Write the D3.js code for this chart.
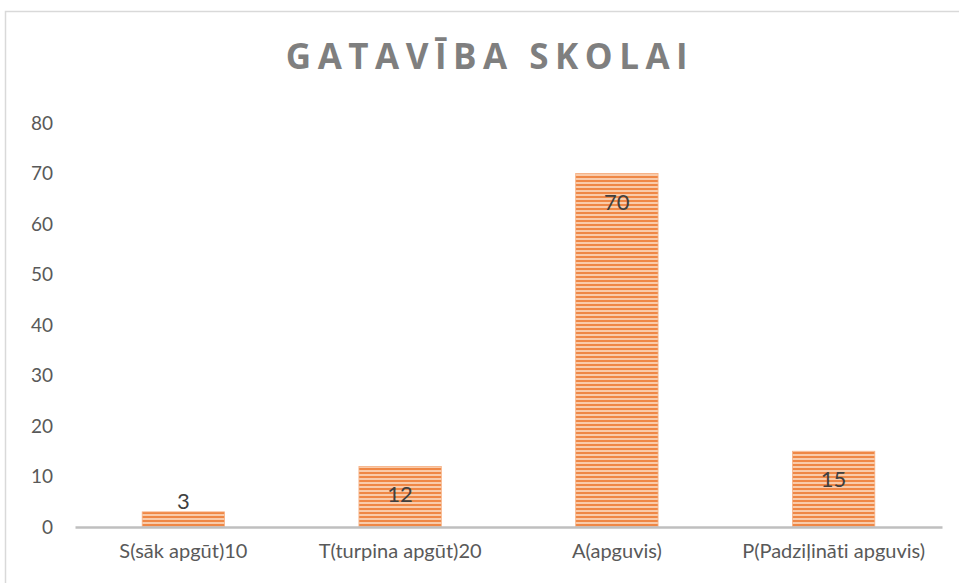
<!DOCTYPE html>
<html lang="lv">
<head>
<meta charset="UTF-8">
<title>Gatavība skolai</title>
<style>
    body { margin: 0; background: #fff; }
    svg text { font-family: Lato, "Open Sans", sans-serif; font-variant-ligatures: none; }
</style>
</head>
<body>
<div id="chart"></div>
<script src="https://d3js.org/d3.v7.min.js"></script>
<script>
    // data
    var categories = ["S(sāk apgūt)10", "T(turpina apgūt)20", "A(apguvis)", "P(Padziļināti apguvis)"];
    var values = [3, 12, 70, 15];
    var yTicks = [0, 10, 20, 30, 40, 50, 60, 70, 80];
    var title = "GATAVĪBA SKOLAI";

    var width = 959, height = 583;
    var plotLeft = 75, plotRight = 942, plotTop = 123, plotBottom = 527;

    var svg = d3.select("#chart")
        .append("svg")
        .attr("width", width)
        .attr("height", height);

    // stripe pattern for bars
    var pat = svg.append("defs").append("pattern")
        .attr("id", "stripes")
        .attr("patternUnits", "userSpaceOnUse")
        .attr("width", 8)
        .attr("height", 4);
    pat.append("rect").attr("width", 8).attr("height", 4).attr("fill", "#f9cbaa");
    pat.append("rect").attr("width", 8).attr("height", 2).attr("fill", "#ef8745");

    // chart area border (cut off at right and bottom)
    svg.append("path")
        .attr("d", "M5.5," + (height + 5) + "V11.5H" + (width + 5))
        .attr("fill", "none")
        .attr("stroke", "#d9d9d9")
        .attr("stroke-width", 1.5);

    var x = d3.scaleBand()
        .domain(categories)
        .range([plotLeft, plotRight])
        .paddingInner(0.62)
        .paddingOuter(0.31);

    var y = d3.scaleLinear()
        .domain([0, 80])
        .range([plotBottom, plotTop]);

    // title
    svg.append("text")
        .attr("x", 490)
        .attr("y", 69)
        .attr("text-anchor", "middle")
        .attr("fill", "#7f7f7f")
        .style("font-family", "'Open Sans', sans-serif")
        .style("font-size", "35px")
        .style("font-weight", "bold")
        .style("letter-spacing", "6.5px")
        .text(title);

    // y axis (labels only)
    var yAxis = d3.axisLeft(y).tickValues(yTicks).tickSize(0).tickPadding(0);
    var yG = svg.append("g")
        .attr("transform", "translate(53,0)")
        .call(yAxis);
    yG.select(".domain").remove();
    yG.selectAll("text")
        .attr("fill", "#595959")
        .style("font-size", "19px");

    // bars
    svg.selectAll(".bar")
        .data(values)
        .enter()
        .append("rect")
        .attr("class", "bar")
        .attr("x", function (d, i) { return x(categories[i]); })
        .attr("y", function (d) { return y(d); })
        .attr("width", x.bandwidth())
        .attr("height", function (d) { return y(0) - y(d); })
        .attr("fill", "url(#stripes)")
        .attr("stroke", "#f6b083")
        .attr("stroke-width", 0.8);

    // x axis
    var xAxis = d3.axisBottom(x).tickSize(0).tickPadding(17);
    var xG = svg.append("g")
        .attr("transform", "translate(0," + plotBottom + ")")
        .call(xAxis);
    xG.select(".domain")
        .attr("stroke", "#bfbfbf")
        .attr("stroke-width", 2.5);
    xG.selectAll("text")
        .attr("fill", "#595959")
        .style("font-size", "20px");

    // data labels
    svg.selectAll(".lbl")
        .data(values)
        .enter()
        .append("text")
        .attr("class", "lbl")
        .attr("x", function (d, i) { return x(categories[i]) + x.bandwidth() / 2; })
        .attr("y", function (d) {
            return (y(0) - y(d)) < 30 ? y(d) - 3 : y(d) + 36;
        })
        .attr("text-anchor", "middle")
        .attr("fill", "#404040")
        .style("font-size", "22px")
        .text(function (d) { return d; });
</script>
</body>
</html>
